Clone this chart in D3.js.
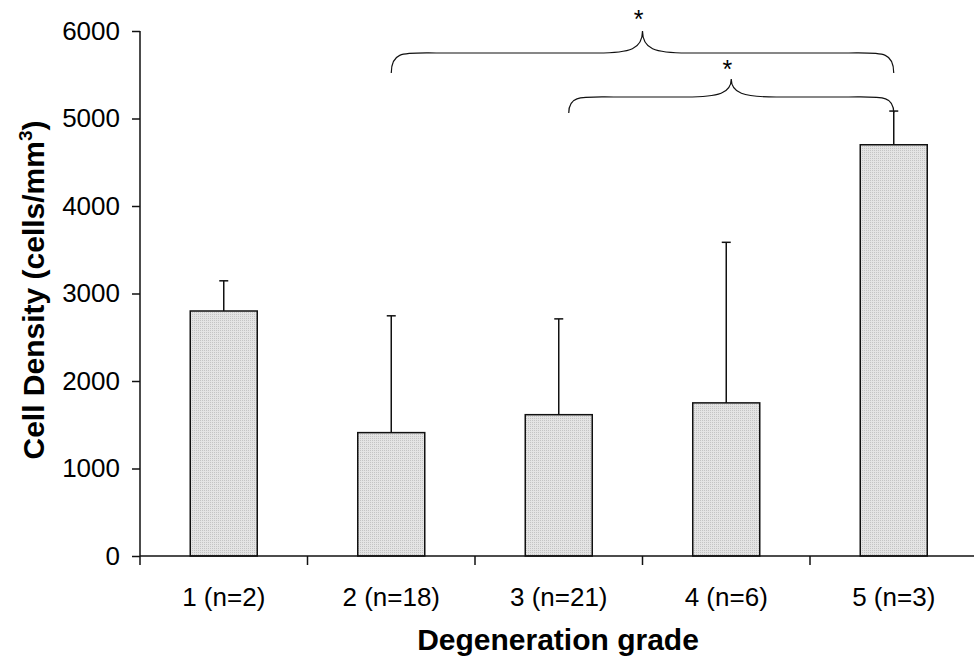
<!DOCTYPE html>
<html><head><meta charset="utf-8">
<script src="https://cdn.jsdelivr.net/npm/d3@7"></script>
<style>body{margin:0;background:#fff}svg{display:block}text{font-family:Arial,"Liberation Sans",sans-serif}</style>
</head><body><svg id="c" width="974" height="658"></svg>
<script>
const categories = ["1 (n=2)", "2 (n=18)", "3 (n=21)", "4 (n=6)", "5 (n=3)"];
const means = [2800, 1410, 1615, 1750, 4700];
const errorTops = [3145, 2745, 2710, 3585, 5085];
const yTicks = [0, 1000, 2000, 3000, 4000, 5000, 6000];
const comparisons = [{from: 1, to: 4, label: "*"}, {from: 2, to: 4, label: "*"}];

(function(){
const svg = d3.select("#c");
const mLeft = 140, mRight = 977.5, mTop = 31, mBottom = 556;
const x = d3.scaleBand().domain(categories).range([mLeft, mRight]).paddingInner(0.6).paddingOuter(0.3);
const xb = d3.scaleBand().domain(categories).range([mLeft, mRight]);
const y = d3.scaleLinear().domain([0, 6000]).range([mBottom, mTop]);

const defs = svg.append("defs");
const pat = defs.append("pattern").attr("id","dots").attr("width",2).attr("height",2).attr("patternUnits","userSpaceOnUse");
pat.append("rect").attr("width",2).attr("height",2).attr("fill","#e4e4e4");
pat.append("rect").attr("width",1).attr("height",1).attr("fill","#c4c4c4");

// bars
svg.selectAll("rect.bar").data(categories).join("rect").attr("class","bar")
  .attr("x", d => x(d)).attr("width", x.bandwidth())
  .attr("y", (d,i) => y(means[i])).attr("height", (d,i) => mBottom - y(means[i]))
  .attr("fill","url(#dots)").attr("stroke","#111").attr("stroke-width",1.5);

// error bars
const eb = svg.append("g").attr("stroke","#111").attr("stroke-width",1.5);
categories.forEach((c,i) => {
  const cx = x(c) + x.bandwidth()/2;
  eb.append("line").attr("x1",cx).attr("x2",cx).attr("y1",y(means[i])).attr("y2",y(errorTops[i]));
  eb.append("line").attr("x1",cx-4.5).attr("x2",cx+4.5).attr("y1",y(errorTops[i])).attr("y2",y(errorTops[i]));
});

// y axis
const ya = svg.append("g").attr("transform",`translate(${mLeft},0)`)
  .call(d3.axisLeft(y).tickValues(yTicks).tickSize(8).tickPadding(12).tickFormat(d3.format("d")));
ya.select(".domain").attr("stroke","#111").attr("stroke-width",1.5).attr("d",`M-0,${mTop}V${mBottom}`);
ya.selectAll(".tick line").attr("stroke","#111").attr("stroke-width",1.5);
ya.selectAll(".tick text").attr("font-size",26).attr("fill","#000").attr("font-family","Arial, 'Liberation Sans', sans-serif");

// x axis
const xa = svg.append("g").attr("transform",`translate(0,${mBottom})`);
xa.append("line").attr("x1",mLeft).attr("x2",974).attr("stroke","#111").attr("stroke-width",1.5);
const bounds = categories.map(c => xb(c));
xa.selectAll("line.t").data(bounds).join("line").attr("class","t")
  .attr("x1",d=>d).attr("x2",d=>d).attr("y1",0).attr("y2",9).attr("stroke","#111").attr("stroke-width",1.5);
xa.selectAll("text").data(categories).join("text")
  .attr("x", d => x(d) + x.bandwidth()/2).attr("y", 50).attr("text-anchor","middle")
  .attr("font-size",26).attr("fill","#000").text(d=>d);

// axis titles
svg.append("text").attr("x", 558).attr("y", 650).attr("text-anchor","middle")
  .attr("font-size",30).attr("font-weight","bold").text("Degeneration grade");
const yt = svg.append("text").attr("transform","translate(44,290) rotate(-90)").attr("text-anchor","middle")
  .attr("font-size",30).attr("font-weight","bold");
yt.append("tspan").text("Cell Density (cells/mm");
yt.append("tspan").attr("dy",-12).attr("font-size",19).text("3");
yt.append("tspan").attr("dy",12).text(")");

// significance braces
const braceGeom = [
  {x0off: 0, yEnd: 73, yFlat: 53, yTip: 31, yStar: 28},
  {x0off: 10, yEnd: 113, yFlat: 97, yTip: 79, yStar: 78}
];
comparisons.forEach((cmp, k) => {
  const g = braceGeom[k];
  const x0 = x(categories[cmp.from]) + x.bandwidth()/2 + g.x0off;
  const x1 = x(categories[cmp.to]) + x.bandwidth()/2;
  const xm = (x0 + x1)/2;
  const h = g.yFlat;
  const p = `M${x0},${g.yEnd} C${x0},${h-2} ${x0+12},${h} ${x0+45},${h} L${xm-45},${h} C${xm-12},${h} ${xm},${h-4} ${xm},${g.yTip}`
    + ` C${xm},${h-4} ${xm+12},${h} ${xm+45},${h} L${x1-45},${h} C${x1-12},${h} ${x1},${h-2} ${x1},${g.yEnd}`;
  svg.append("path").attr("d",p).attr("fill","none").attr("stroke","#111").attr("stroke-width",1.2);
  svg.append("text").attr("x", xm-4).attr("y", g.yStar).attr("text-anchor","middle").attr("font-size",25).text(cmp.label);
});
})();
</script></body></html>
